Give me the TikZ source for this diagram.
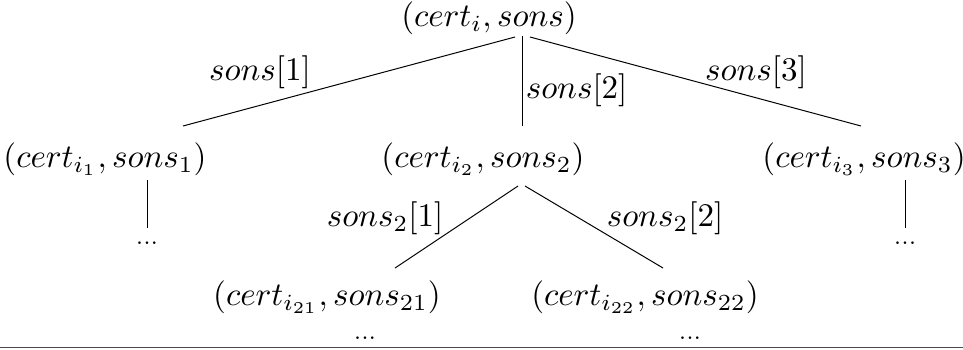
\documentclass[tikz,border=0pt]{standalone}
\begin{document}
\begin{tikzpicture}[x=0.303pt,y=-0.303pt,line width=0.3pt]
% Picture frame in pixel units
\useasboundingbox (0,0) rectangle (963,349);

% Tree nodes
\node (root) at (489,18) {$(cert_i, sons)$};
\node (sonA) at (105,159) {$(cert_{i_1}, sons_1)$};
\node (sonB) at (483,159) {$(cert_{i_2}, sons_2)$};
\node (sonC) at (864,159) {$(cert_{i_3}, sons_3)$};
\node (sonBA) at (327,297) {$(cert_{i_{21}}, sons_{21})$};
\node (sonBB) at (645,297) {$(cert_{i_{22}}, sons_{22})$};

% Dots below the leaves
\node[inner sep=0pt] (dotsA) at (147,243) {\scriptsize ...};
\node[inner sep=0pt] (dotsC) at (905,243) {\scriptsize ...};
\node[inner sep=0pt] (dotsBA) at (365,338) {\scriptsize ...};
\node[inner sep=0pt] (dotsBB) at (690,338) {\scriptsize ...};

% End points of the edges
\coordinate (rootL) at (515,37);
\coordinate (rootM) at (522,36);
\coordinate (rootR) at (530,37);
\coordinate (endA) at (183,126);
\coordinate (endB) at (522,126);
\coordinate (endC) at (861,126);
\coordinate (sonBL) at (518,186);
\coordinate (sonBR) at (525,186);
\coordinate (endBA) at (395,268);
\coordinate (endBB) at (663,268);
\coordinate (downA) at (147,180);
\coordinate (downC) at (905,180);

% Edges
\draw (rootL) -- (endA);
\draw (rootM) -- (endB);
\draw (rootR) -- (endC);
\draw (sonBL) -- (endBA);
\draw (sonBR) -- (endBB);
\draw (downA) -- (dotsA.north |- 0,228);
\draw (downC) -- (dotsC.north |- 0,228);

% Edge labels
\node (labA) at (260,72) {$sons[1]$};
\node[anchor=west, inner sep=1pt] (labB) at (522,90) {$sons[2]$};
\node (labC) at (756,72) {$sons[3]$};
\node (labBA) at (385,218) {$sons_2[1]$};
\node (labBB) at (665,218) {$sons_2[2]$};

% Bottom rule
\coordinate (ruleL) at (0,347);
\coordinate (ruleR) at (963,347);
\draw[black!70] (ruleL) -- (ruleR);

\end{tikzpicture}
\end{document}
